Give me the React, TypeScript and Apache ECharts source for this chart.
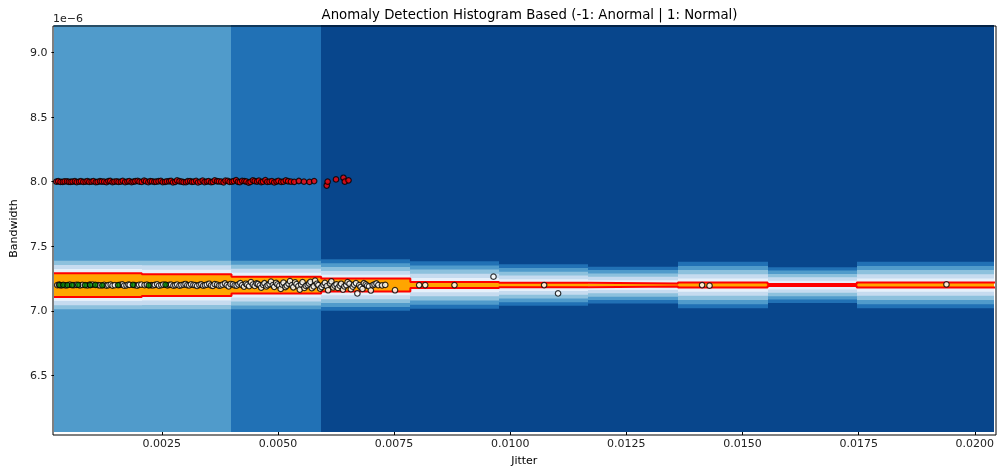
import React, { useEffect, useRef } from "react";
import * as echarts from "echarts";

// Axis ranges (Bandwidth values are in units of 1e-6)
const X_MIN = 0.00021;
const X_MAX = 0.020394;
const Y_MIN = 6.071;
const Y_MAX = 9.204;
const X_TICKS = [0.0025, 0.005, 0.0075, 0.01, 0.0125, 0.015, 0.0175, 0.02];
const Y_TICKS = [6.5, 7.0, 7.5, 8.0, 8.5, 9.0];

// Histogram-score background (contourf) per jitter bin
const BAND_CENTER = 7.2;
const BIN_EDGES = [0.0001, 0.00207, 0.004, 0.00593, 0.00785, 0.00976, 0.01168, 0.01361, 0.01554, 0.01746, 0.021];
const BIN_BG_LEVEL = [2, 2, 1, 0, 0, 0, 0, 0, 0, 0];
const BIN_CORE_HALF = [0.092, 0.084, 0.065, 0.05, 0.023, 0.017, 0.012, 0.019, 0.008, 0.019];
const BIN_BAND_HALF = [0.188, 0.188, 0.188, 0.199, 0.184, 0.161, 0.142, 0.18, 0.138, 0.18];
const LEVEL_COLORS = ["#08468c", "#2171b5", "#509bcb", "#8dc1dd", "#c6dbef", "#e6f0fa"];

// Scatter points [jitter, bandwidth(1e-6)]
const RED_POINTS = [
  [0.00023, 8.0], [0.00027, 8.003], [0.00032, 7.998], [0.00037, 7.999], [0.00041, 8.002], [0.00046, 8.002],
  [0.0005, 7.999], [0.00054, 7.998], [0.00058, 8.001], [0.00063, 8.003], [0.00067, 7.997], [0.00072, 8.0],
  [0.00076, 8.003], [0.00081, 7.998], [0.00086, 8.0], [0.0009, 8.004], [0.00094, 7.998], [0.00099, 8.0],
  [0.00103, 8.004], [0.00108, 7.996], [0.00112, 7.999], [0.00117, 8.003], [0.00121, 8.001], [0.00126, 8.0],
  [0.00131, 7.996], [0.00135, 8.004], [0.00139, 8.005], [0.00144, 7.997], [0.00148, 8.0], [0.00153, 8.002],
  [0.00157, 7.998], [0.00162, 8.0], [0.00166, 8.006], [0.00171, 7.997], [0.00176, 8.001], [0.0018, 8.004],
  [0.00185, 7.997], [0.00189, 8.0], [0.00193, 8.003], [0.00198, 8.006], [0.00202, 8.0], [0.00207, 7.998],
  [0.00212, 8.008], [0.00216, 8.002], [0.00221, 7.996], [0.00225, 8.004], [0.00229, 8.002], [0.00234, 7.999],
  [0.00238, 8.0], [0.00243, 8.003], [0.00248, 8.006], [0.00252, 7.997], [0.00257, 7.998], [0.00261, 8.002],
  [0.00266, 8.003], [0.0027, 8.006], [0.00274, 7.995], [0.00279, 7.999], [0.00283, 8.009], [0.00288, 8.003],
  [0.00293, 8.0], [0.00297, 7.996], [0.00302, 7.997], [0.00306, 8.003], [0.00311, 8.004], [0.00315, 7.998],
  [0.00319, 8.0], [0.00324, 8.006], [0.00328, 7.994], [0.00333, 8.0], [0.00338, 8.008], [0.00342, 7.997],
  [0.00347, 8.001], [0.00351, 8.004], [0.00356, 7.996], [0.0036, 7.999], [0.00364, 8.01], [0.00369, 8.003],
  [0.00373, 8.002], [0.00378, 8.0], [0.00383, 7.995], [0.00387, 8.008], [0.00392, 8.006], [0.00396, 7.998],
  [0.00401, 8.0], [0.00405, 8.004], [0.0041, 8.012], [0.00414, 7.999], [0.00418, 7.996], [0.00423, 8.006],
  [0.00428, 8.004], [0.00432, 8.001], [0.00437, 7.993], [0.00441, 7.998], [0.00446, 8.01], [0.0045, 8.004],
  [0.00455, 8.001], [0.00459, 8.008], [0.00464, 7.997], [0.00468, 8.0], [0.00473, 8.012], [0.00477, 7.998],
  [0.00482, 8.0], [0.00487, 8.004], [0.00492, 7.995], [0.00497, 8.001], [0.00501, 8.006], [0.00507, 7.998],
  [0.00512, 8.0], [0.00517, 8.009], [0.00522, 8.003], [0.00528, 8.0], [0.00535, 7.998], [0.00545, 8.005],
  [0.00556, 8.0], [0.00568, 7.998], [0.00578, 8.004], [0.00605, 7.97], [0.00607, 8.0], [0.00625, 8.017],
  [0.00641, 8.03], [0.00644, 8.0], [0.00652, 8.01],
];

const WHITE_POINTS = [
  [0.00025, 7.2], [0.00029, 7.203], [0.00034, 7.198], [0.00043, 7.197], [0.00052, 7.203], [0.00061, 7.199],
  [0.00066, 7.202], [0.00074, 7.198], [0.00079, 7.201], [0.0009, 7.197], [0.00095, 7.203], [0.00101, 7.204],
  [0.00113, 7.2], [0.00117, 7.197], [0.00126, 7.202], [0.00131, 7.196], [0.00135, 7.199], [0.0014, 7.203],
  [0.00144, 7.196], [0.00149, 7.199], [0.0016, 7.202], [0.00165, 7.205], [0.00169, 7.196], [0.00174, 7.198],
  [0.00178, 7.204], [0.00181, 7.201], [0.00192, 7.199], [0.00197, 7.196], [0.00201, 7.202], [0.00206, 7.204],
  [0.00213, 7.2], [0.00218, 7.203], [0.00227, 7.199], [0.00231, 7.197], [0.00235, 7.201], [0.0024, 7.206],
  [0.00244, 7.196], [0.00249, 7.199], [0.00253, 7.204], [0.00262, 7.198], [0.00266, 7.202], [0.0027, 7.203],
  [0.00275, 7.195], [0.00279, 7.199], [0.00283, 7.204], [0.00288, 7.196], [0.00292, 7.2], [0.00297, 7.203],
  [0.00301, 7.208], [0.00305, 7.199], [0.00309, 7.197], [0.00313, 7.206], [0.00318, 7.202], [0.00322, 7.199],
  [0.00326, 7.193], [0.00331, 7.201], [0.00335, 7.205], [0.00339, 7.195], [0.00343, 7.199], [0.00347, 7.204],
  [0.00352, 7.21], [0.00356, 7.198], [0.0036, 7.194], [0.00364, 7.207], [0.00369, 7.203], [0.00373, 7.196],
  [0.00377, 7.198], [0.00381, 7.203], [0.00386, 7.212], [0.0039, 7.199], [0.00394, 7.19], [0.00398, 7.208],
  [0.00403, 7.205], [0.00407, 7.198], [0.00411, 7.196], [0.00415, 7.206], [0.00419, 7.215], [0.00423, 7.2],
  [0.00427, 7.188], [0.00431, 7.21], [0.00434, 7.202], [0.00438, 7.192], [0.00442, 7.222], [0.00446, 7.204],
  [0.0045, 7.193], [0.00454, 7.212], [0.00457, 7.208], [0.00461, 7.198], [0.00464, 7.18], [0.00468, 7.202],
  [0.00471, 7.214], [0.00475, 7.19], [0.00478, 7.199], [0.00482, 7.208], [0.00485, 7.226], [0.00489, 7.2],
  [0.00492, 7.186], [0.00496, 7.216], [0.00499, 7.205], [0.00503, 7.195], [0.00506, 7.17], [0.00509, 7.204],
  [0.00512, 7.218], [0.00516, 7.185], [0.00519, 7.196], [0.00523, 7.21], [0.00526, 7.23], [0.0053, 7.2],
  [0.00533, 7.183], [0.00537, 7.22], [0.0054, 7.207], [0.00544, 7.192], [0.00547, 7.165], [0.0055, 7.205],
  [0.00553, 7.222], [0.00557, 7.178], [0.0056, 7.194], [0.00564, 7.2], [0.00567, 7.212], [0.0057, 7.225],
  [0.00573, 7.176], [0.00577, 7.19], [0.0058, 7.234], [0.00584, 7.21], [0.00587, 7.2], [0.00591, 7.172],
  [0.00594, 7.185], [0.00598, 7.202], [0.00601, 7.216], [0.00605, 7.192], [0.00608, 7.16], [0.00612, 7.212],
  [0.00615, 7.228], [0.00619, 7.182], [0.00622, 7.196], [0.00626, 7.205], [0.00629, 7.178], [0.00633, 7.196],
  [0.00636, 7.21], [0.0064, 7.165], [0.00643, 7.19], [0.00647, 7.2], [0.0065, 7.222], [0.00654, 7.21],
  [0.00657, 7.168], [0.00661, 7.188], [0.00664, 7.204], [0.00668, 7.215], [0.00671, 7.135], [0.00675, 7.2],
  [0.00678, 7.185], [0.00682, 7.17], [0.00685, 7.214], [0.00689, 7.205], [0.00692, 7.196], [0.00696, 7.19],
  [0.007, 7.158], [0.00704, 7.2], [0.00708, 7.205], [0.00712, 7.212], [0.00716, 7.2], [0.00724, 7.198],
  [0.00731, 7.201], [0.00752, 7.16], [0.00804, 7.2], [0.00817, 7.2], [0.0088, 7.2], [0.00964, 7.265],
  [0.01073, 7.2], [0.01103, 7.135], [0.01413, 7.2], [0.01429, 7.195], [0.01939, 7.205],
];

const GREEN_POINTS = [
  [0.0003, 7.2], [0.00038, 7.201], [0.00047, 7.199], [0.00057, 7.2], [0.0007, 7.202], [0.00085, 7.199],
  [0.00096, 7.2], [0.00107, 7.201], [0.00122, 7.198], [0.00156, 7.2], [0.00188, 7.202], [0.00222, 7.197],
  [0.00258, 7.203],
];

const FONT = "DejaVu Sans";

export default function App() {
  const ref = useRef<HTMLDivElement>(null);
  useEffect(() => {
    if (!ref.current) return;
    const chart = echarts.init(ref.current, null, { renderer: "svg" });

    const binData = BIN_BG_LEVEL.map((lvl, i) => [
      BIN_EDGES[i], BIN_EDGES[i + 1], lvl, BIN_CORE_HALF[i], BIN_BAND_HALF[i],
    ]);
    const topLine: number[][] = [];
    const botLine: number[][] = [];
    BIN_CORE_HALF.forEach((h, i) => {
      topLine.push([BIN_EDGES[i], BAND_CENTER + h], [BIN_EDGES[i + 1], BAND_CENTER + h]);
      botLine.push([BIN_EDGES[i], BAND_CENTER - h], [BIN_EDGES[i + 1], BAND_CENTER - h]);
    });

    const renderItem = (params: any, api: any) => {
      const x0 = api.value(0), x1 = api.value(1), lvl = api.value(2);
      const core = api.value(3), band = api.value(4);
      const cs = params.coordSys;
      const left = Math.round(Math.max(cs.x - 1, api.coord([x0, BAND_CENTER])[0]));
      const right = Math.round(Math.min(cs.x + cs.width + 1, api.coord([x1, BAND_CENTER])[0]));
      if (right <= left) return { type: "group", children: [] };
      const yc = api.coord([x0, BAND_CENTER])[1];
      const ppu = api.size([0, 1])[1];
      const children: any[] = [
        { type: "rect", shape: { x: left, y: cs.y - 1, width: right - left, height: cs.height + 2 }, style: { fill: LEVEL_COLORS[lvl] } },
      ];
      const s = (band - core) / (5 - lvl);
      for (let k = lvl + 1; k <= 5; k++) {
        const half = (core + (6 - k) * s) * ppu;
        children.push({ type: "rect", shape: { x: left, y: yc - half, width: right - left, height: 2 * half }, style: { fill: LEVEL_COLORS[k] } });
      }
      const ch = core * ppu;
      children.push({ type: "rect", shape: { x: left, y: yc - ch, width: right - left, height: 2 * ch }, style: { fill: "#ffa500" } });
      return { type: "group", children };
    };

    const scatterCommon = {
      type: "scatter",
      symbolSize: 5.5,
      silent: true,
    };

    chart.setOption({
      animation: false,
      title: {
        text: "Anomaly Detection Histogram Based (-1: Anormal | 1: Normal)",
        left: 524.5,
        textAlign: "center",
        top: 3,
        textStyle: { fontFamily: FONT, fontSize: 13.3, fontWeight: "normal", color: "#000" },
      },
      grid: { left: 53, right: 1, top: 26, bottom: 36, containLabel: false },
      xAxis: {
        type: "value",
        min: X_MIN,
        max: X_MAX,
        name: "Jitter",
        nameLocation: "middle",
        nameGap: 24,
        nameTextStyle: { fontFamily: FONT, fontSize: 11, color: "#000" },
        axisLine: { show: false },
        splitLine: { show: false },
        axisTick: { show: true, length: 4, lineStyle: { color: "#000" }, customValues: X_TICKS },
        axisLabel: {
          fontFamily: FONT, fontSize: 11, color: "#222", margin: 7,
          customValues: X_TICKS,
          formatter: (v: number) => v.toFixed(4),
        },
      },
      yAxis: {
        type: "value",
        min: Y_MIN,
        max: Y_MAX,
        name: "Bandwidth",
        nameLocation: "middle",
        nameRotate: 90,
        nameGap: 27,
        nameTextStyle: { fontFamily: FONT, fontSize: 11, color: "#000" },
        axisLine: { show: false },
        splitLine: { show: false },
        axisTick: { show: true, length: 4, lineStyle: { color: "#000" }, customValues: Y_TICKS },
        axisLabel: {
          fontFamily: FONT, fontSize: 11, color: "#222", margin: 8,
          customValues: Y_TICKS,
          formatter: (v: number) => v.toFixed(1),
        },
      },
      graphic: [
        { type: "text", left: 53, top: 13, style: { text: "1e\u22126", fontFamily: FONT, fontSize: 11, fill: "#222" } },
        { type: "rect", z: 100, shape: { x: 53, y: 26, width: 943, height: 409 }, style: { fill: "none", stroke: "#000", lineWidth: 1 } },
      ],
      series: [
        { type: "custom", renderItem, data: binData, silent: true, z: 1 },
        { type: "line", data: topLine, symbol: "none", lineStyle: { color: "#ff0000", width: 2 }, silent: true, z: 2 },
        { type: "line", data: botLine, symbol: "none", lineStyle: { color: "#ff0000", width: 2 }, silent: true, z: 2 },
        { ...scatterCommon, data: RED_POINTS, itemStyle: { color: "#ff0000", borderColor: "#000", borderWidth: 1.2 }, z: 3 },
        { ...scatterCommon, data: WHITE_POINTS, itemStyle: { color: "#ffffff", borderColor: "#000", borderWidth: 1.2 }, z: 3 },
        { ...scatterCommon, data: GREEN_POINTS, itemStyle: { color: "#008000", borderColor: "#000", borderWidth: 1.2 }, z: 4 },
      ],
    });
    return () => chart.dispose();
  }, []);
  return <div ref={ref} style={{ position: "fixed", left: 0, top: 0, width: 997, height: 471 }} />;
}
